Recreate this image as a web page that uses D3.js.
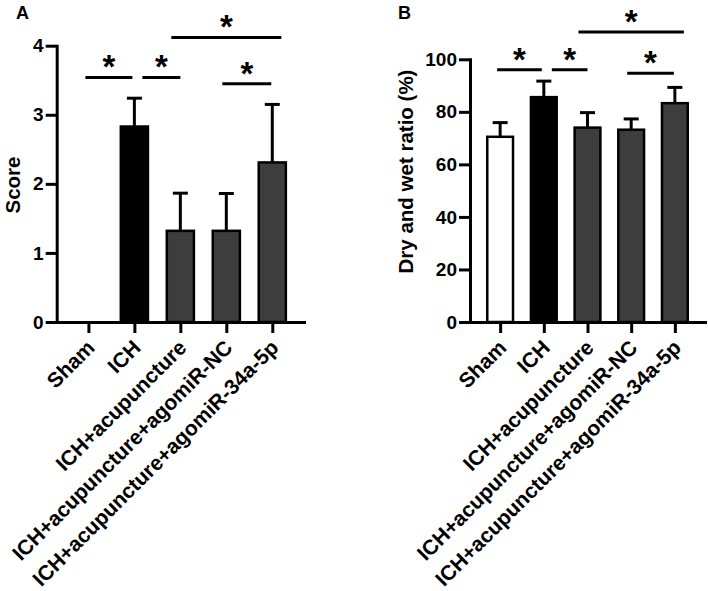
<!DOCTYPE html>
<html>
<head>
<meta charset="utf-8">
<script src="https://cdn.jsdelivr.net/npm/d3@7"></script>
<style>
  html, body { margin: 0; padding: 0; background: #ffffff; }
  svg { display: block; }
  text { font-family: "Liberation Sans", Arial, Helvetica, sans-serif; font-weight: bold; fill: #000; }
</style>
</head>
<body>
<svg id="chart" width="708" height="591"></svg>
<script>
// ---- data ----
const categories = ["Sham", "ICH", "ICH+acupuncture", "ICH+acupuncture+agomiR-NC", "ICH+acupuncture+agomiR-34a-5p"];
const scoreMean = [0, 2.83, 1.32, 1.32, 2.31];
const scoreErr  = [0, 0.41, 0.545, 0.54, 0.84];
const ratioMean = [70.5, 85.6, 74.0, 73.2, 83.3];
const ratioErr  = [5.4, 6.1, 5.7, 4.1, 6.0];
const scoreTicks = [0, 1, 2, 3, 4];
const ratioTicks = [0, 20, 40, 60, 80, 100];
const barFills = ["#ffffff", "#000000", "#3d3d3d", "#3d3d3d", "#3d3d3d"];
const scoreSig = [[0, 1, 3.54], [1, 2, 3.54], [2, 4, 4.12], [3, 4, 3.45]];
const ratioSig = [[0, 1, 96.0], [1, 2, 96.0], [2, 4, 110.4], [3, 4, 94.7]];
const sigLabel = "*";

// ---- layout ----
const sigOffsets = [[-3, -2], [8, 0], [-9, 9], [-4, -1]];
const FONT = "'Liberation Sans', Arial, sans-serif";
const svg = d3.select("#chart");

function panel(cfg) {
  const g = svg.append("g");
  const x = d3.scalePoint().domain(categories).range(cfg.xRange).padding(0.69);
  const y = d3.scaleLinear().domain(cfg.yDomain).range(cfg.yRange);
  const step = x.step();
  const bw = step * 0.59;
  const y0 = y(0);

  // bars
  g.selectAll("rect.bar").data(cfg.mean).join("rect")
    .attr("class", "bar")
    .attr("x", (d, i) => x(categories[i]) - bw / 2)
    .attr("y", d => y(d))
    .attr("width", bw)
    .attr("height", d => y0 - y(d))
    .attr("fill", (d, i) => barFills[i])
    .attr("stroke", "#000")
    .attr("stroke-width", 2.5);

  // error bars (upper only)
  const eb = g.selectAll("g.err").data(cfg.mean.map((m, i) => ({ m, e: cfg.err[i], c: categories[i] })).filter(d => d.e > 0))
    .join("g").attr("class", "err");
  eb.append("line")
    .attr("x1", d => x(d.c)).attr("x2", d => x(d.c))
    .attr("y1", d => y(d.m)).attr("y2", d => y(d.m + d.e))
    .attr("stroke", "#000").attr("stroke-width", 3);
  eb.append("line")
    .attr("x1", d => x(d.c) - 7.5).attr("x2", d => x(d.c) + 7.5)
    .attr("y1", d => y(d.m + d.e)).attr("y2", d => y(d.m + d.e))
    .attr("stroke", "#000").attr("stroke-width", 3);

  // y axis
  const ya = g.append("g")
    .attr("transform", `translate(${cfg.xRange[0]},0)`)
    .call(d3.axisLeft(y).tickValues(cfg.ticks).tickFormat(d3.format("d"))
      .tickSize(11).tickPadding(2).tickSizeOuter(0));
  ya.select(".domain").attr("stroke-width", 3).attr("stroke-linecap", "square");
  ya.selectAll(".tick line").attr("stroke-width", 3);
  ya.selectAll(".tick text").style("font-size", "19px").style("font-weight", "bold")
    .style("font-family", FONT);

  // x axis
  const xa = g.append("g")
    .attr("transform", `translate(0,${y0})`)
    .call(d3.axisBottom(x).tickSize(11).tickSizeOuter(0));
  xa.select(".domain").attr("stroke-width", 3).attr("stroke-linecap", "square");
  xa.selectAll(".tick line").attr("stroke-width", 3);
  xa.selectAll(".tick text")
    .attr("x", 0).attr("y", 0).attr("dy", null)
    .attr("transform", "translate(7,27) rotate(-45)")
    .attr("text-anchor", "end")
    .style("font-size", "21px").style("font-weight", "bold")
    .style("font-family", FONT);

  // significance
  cfg.sig.forEach((s, k) => {
    const xa1 = x(categories[s[0]]) + sigOffsets[k][0];
    const xa2 = x(categories[s[1]]) + sigOffsets[k][1];
    const yy = y(s[2]);
    g.append("line").attr("x1", xa1).attr("x2", xa2).attr("y1", yy).attr("y2", yy)
      .attr("stroke", "#000").attr("stroke-width", 3);
    g.append("text").attr("x", (xa1 + xa2) / 2).attr("y", yy + 1)
      .attr("text-anchor", "middle").style("font-size", "33px").text(sigLabel);
  });

  // y title
  g.append("text")
    .attr("transform", `translate(${cfg.titleX},${cfg.titleY}) rotate(-90)`)
    .attr("text-anchor", "middle").style("font-size", "20.5px").text(cfg.title);

  // panel letter
  g.append("text").attr("x", cfg.letterX).attr("y", 19)
    .style("font-size", "18px").text(cfg.letter);
}

panel({ xRange: [56.7, 304], yRange: [322, 45.7], yDomain: [0, 4], ticks: scoreTicks,
        mean: scoreMean, err: scoreErr, sig: scoreSig, title: "Score",
        titleX: 20, titleY: 185, letter: "A", letterX: 16 });
panel({ xRange: [470, 705], yRange: [322, 59.3], yDomain: [0, 100], ticks: ratioTicks,
        mean: ratioMean, err: ratioErr, sig: ratioSig, title: "Dry and wet ratio (%)",
        titleX: 413, titleY: 171.5, letter: "B", letterX: 398 });
</script>
</body>
</html>
